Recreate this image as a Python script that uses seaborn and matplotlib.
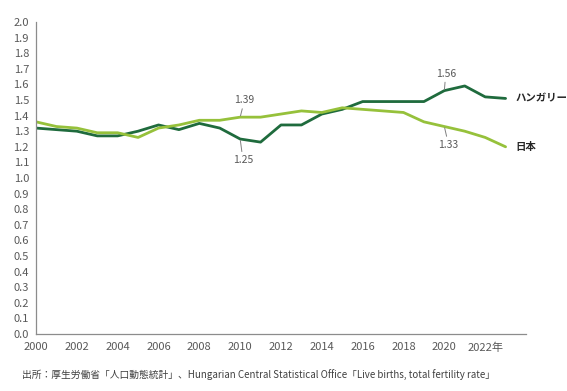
import matplotlib
matplotlib.use("Agg")
import matplotlib.pyplot as plt
import seaborn as sns
import pandas as pd

# ------------ DATA ------------
years = list(range(2000, 2024))
hungary = [1.32, 1.31, 1.30, 1.27, 1.27, 1.30, 1.34, 1.31, 1.35, 1.32, 1.25, 1.23,
           1.34, 1.34, 1.41, 1.44, 1.49, 1.49, 1.49, 1.49, 1.56, 1.59, 1.52, 1.51]
japan = [1.36, 1.33, 1.32, 1.29, 1.29, 1.26, 1.32, 1.34, 1.37, 1.37, 1.39, 1.39,
         1.41, 1.43, 1.42, 1.45, 1.44, 1.43, 1.42, 1.36, 1.33, 1.30, 1.26, 1.20]
series_names = ["ハンガリー", "日本"]
x_ticks = list(range(2000, 2023, 2))
x_tick_labels = [str(y) for y in x_ticks[:-1]] + ["2022年"]
y_ticks = [i / 10 for i in range(0, 21)]
source_text = "出所：厚生労働省「人口動態統計」、Hungarian Central Statistical Office「Live births, total fertility rate」"

# (series, year, value shown, label offset in points)
callouts = [
    ("日本", 2010, 1.39, (3, 12)),
    ("ハンガリー", 2010, 1.25, (2, -15)),
    ("ハンガリー", 2020, 1.56, (1, 12)),
    ("日本", 2020, 1.33, (3, -13)),
]

COLORS = {"ハンガリー": "#1f6b3d", "日本": "#96c13b"}
GRAY = "#595959"

df = pd.DataFrame({"year": years * 2,
                   "tfr": hungary + japan,
                   "country": [series_names[0]] * len(years) + [series_names[1]] * len(years)})

# ------------ PLOT ------------
sns.set_theme(style="white")
plt.rcParams["font.family"] = ["Noto Sans CJK JP", "DejaVu Sans"]

fig = plt.figure(figsize=(5.67, 3.91), dpi=100)
ax = fig.add_axes([36 / 567, 1 - 334 / 391, (526 - 36) / 567, (334 - 22) / 391])

sns.lineplot(data=df, x="year", y="tfr", hue="country", palette=COLORS,
             linewidth=2.0, legend=False, ax=ax)

ax.set_xlim(2000, 2024)
ax.set_ylim(0, 2.0)
ax.set_xticks(x_ticks + [2024])
ax.set_xticklabels(x_tick_labels + [""])
ax.set_yticks(y_ticks)
ax.set_yticklabels([f"{v:.1f}" for v in y_ticks])
ax.set_xlabel("")
ax.set_ylabel("")

for side in ["top", "right"]:
    ax.spines[side].set_visible(False)
for side in ["left", "bottom"]:
    ax.spines[side].set_color("#8c8c8c")
    ax.spines[side].set_linewidth(0.9)
ax.tick_params(axis="y", direction="out", length=3, width=0.8, color="#8c8c8c",
               labelsize=8, labelcolor=GRAY, pad=2)
ax.tick_params(axis="x", direction="inout", length=4, width=0.8, color="#8c8c8c",
               labelsize=8, labelcolor=GRAY, pad=4)

# series labels at line ends
ends = {"ハンガリー": hungary[-1], "日本": japan[-1]}
for name, val in ends.items():
    ax.annotate(name, xy=(years[-1], val), xytext=(7, 0), textcoords="offset points",
                ha="left", va="center", fontsize=7.5, fontweight="bold", color="#262626")

# value callouts with leader lines
for name, yr, val, off in callouts:
    ax.annotate(f"{val:.2f}", xy=(yr, val), xytext=off, textcoords="offset points",
                ha="center", va="center", fontsize=7.5, color=GRAY,
                arrowprops=dict(arrowstyle="-", color="#7f7f7f", lw=0.7, shrinkA=0, shrinkB=1))

fig.text(22 / 567, 1 - 375 / 391, source_text, fontsize=7, color="#404040",
         ha="left", va="center")

fig.savefig("out.png", dpi=100)
